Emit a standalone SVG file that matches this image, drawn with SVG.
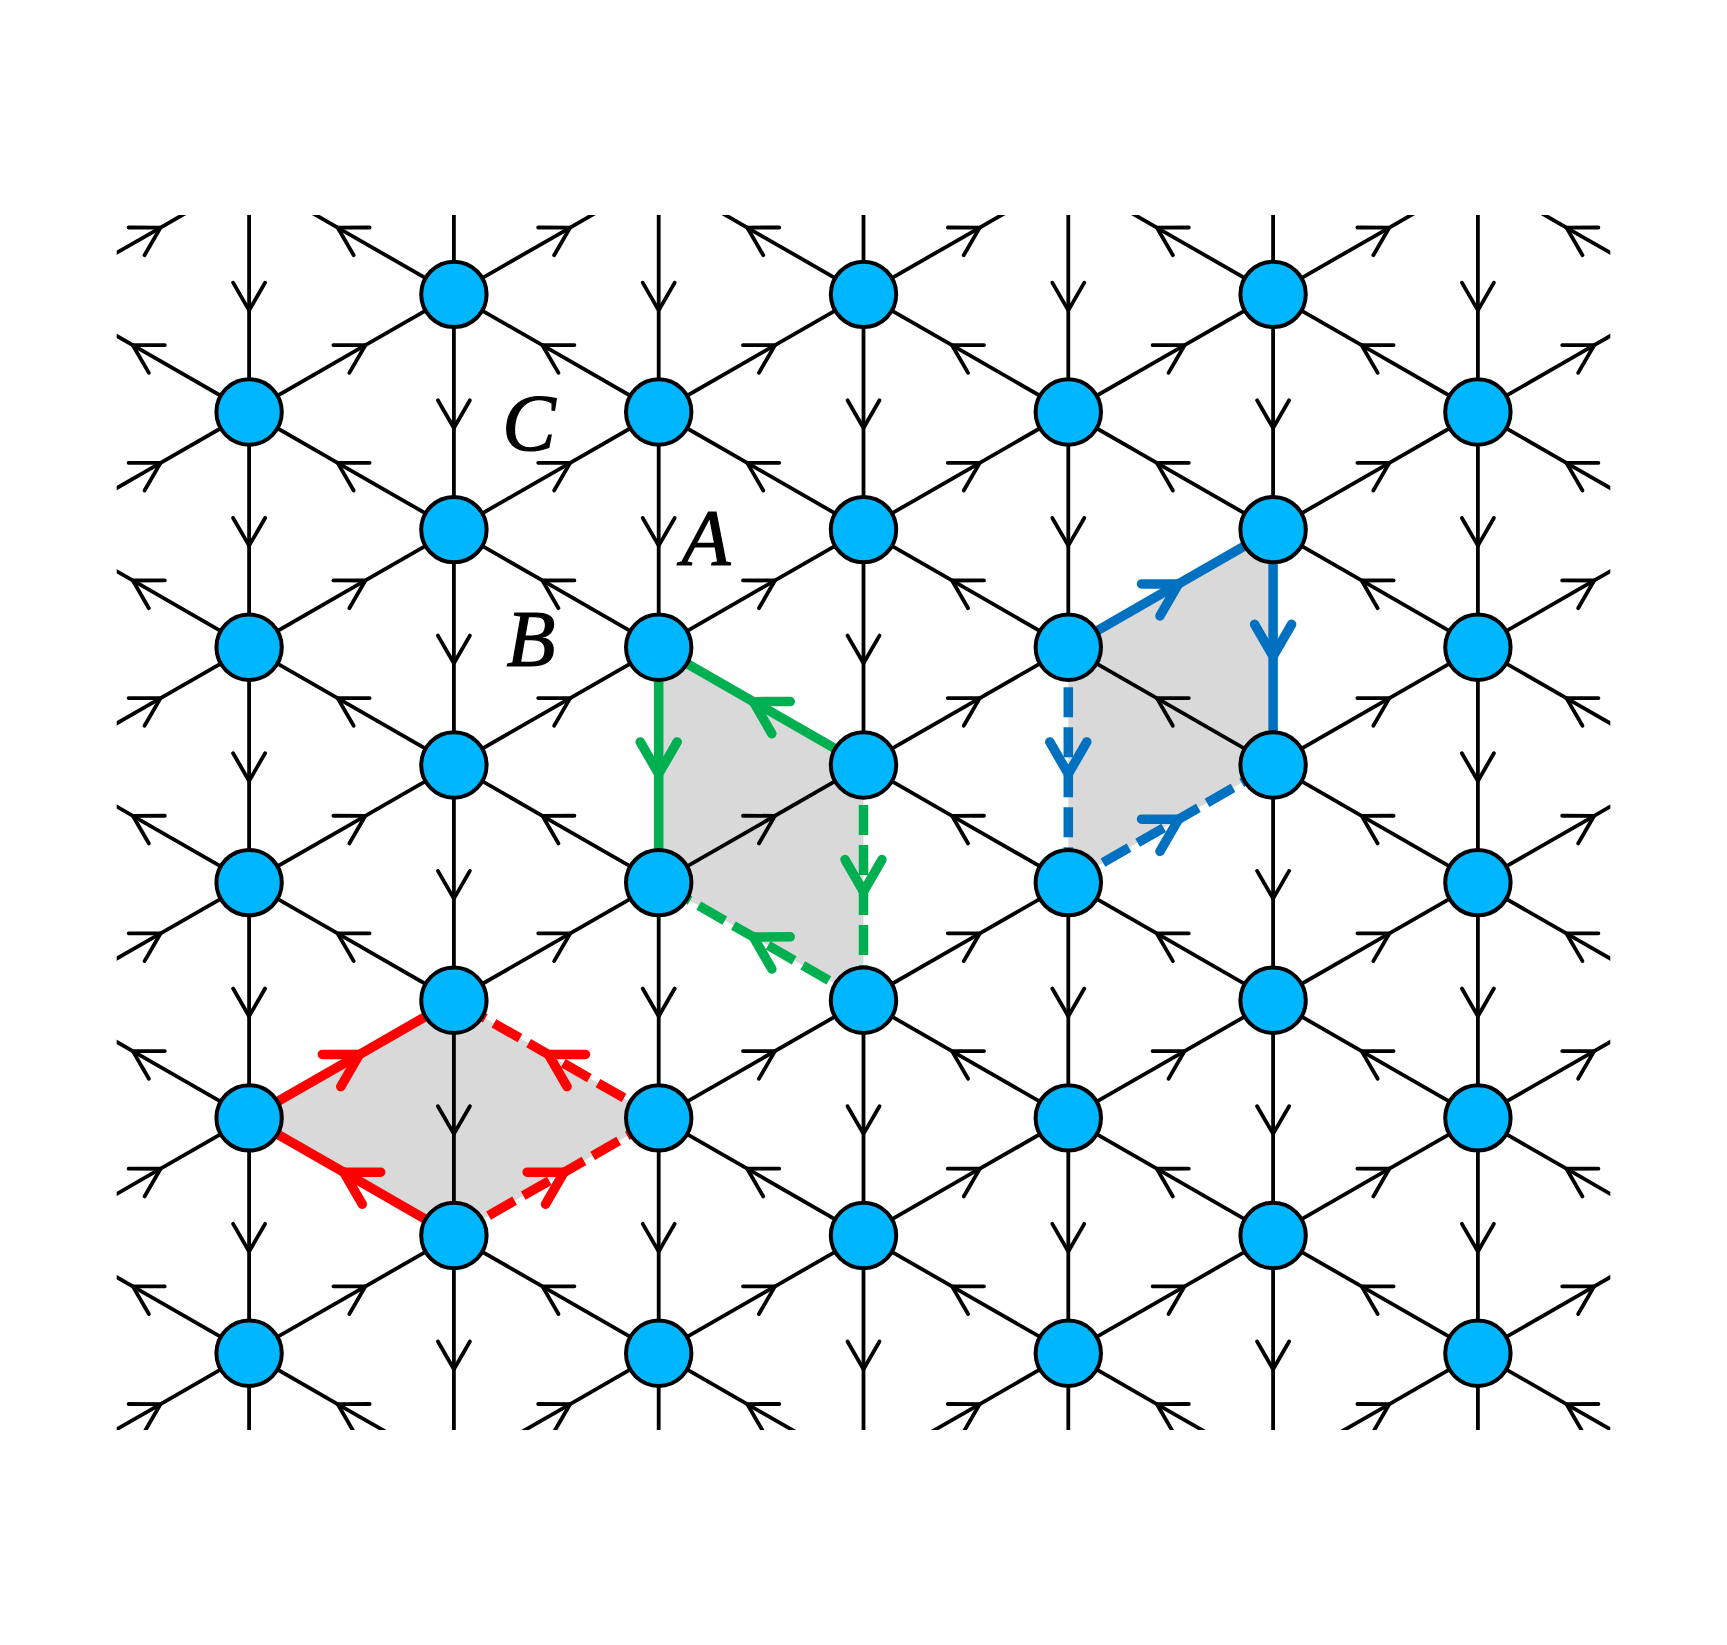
<svg xmlns="http://www.w3.org/2000/svg" width="1727" height="1645" viewBox="0 0 1727 1645">
<style>
.e{fill:none;stroke:#000;stroke-width:3.8;marker-mid:url(#ah)}
.node circle{fill:#00B7FF;stroke:#000;stroke-width:4}
.sh{fill:#D9D9D9;stroke:none}
.g{fill:none;stroke:#00B050;stroke-width:9.5;marker-mid:url(#ag)}
.r{fill:none;stroke:#FF0000;stroke-width:9.5;marker-mid:url(#ar)}
.b{fill:none;stroke:#0070C0;stroke-width:9.5;marker-mid:url(#ab)}
.dash{stroke-dasharray:30 10}
.lbl{font-family:"Liberation Serif","Times New Roman",serif;font-style:italic;font-size:80px;fill:#000;stroke:#000;stroke-width:1.2;text-anchor:middle}
</style>
<defs>
<clipPath id="clip"><rect x="116.7" y="215" width="1493.6" height="1215"/></clipPath>
<marker id="ah" markerUnits="userSpaceOnUse" viewBox="-40 -40 80 80" markerWidth="80" markerHeight="80" refX="-16" refY="0" orient="auto" overflow="visible">
<path d="M-27.7,-16 L0,0 L-27.7,16" fill="none" stroke="#000" stroke-width="3.8" stroke-linecap="round" stroke-linejoin="round"/>
</marker>
<marker id="ag" markerUnits="userSpaceOnUse" viewBox="-50 -50 100 100" markerWidth="100" markerHeight="100" refX="-9" refY="0" orient="auto" overflow="visible">
<path d="M-32,-18.5 L0,0 L-32,18.5" fill="none" stroke="#00B050" stroke-width="9.5" stroke-linecap="round" stroke-linejoin="round"/>
</marker>
<marker id="ar" markerUnits="userSpaceOnUse" viewBox="-50 -50 100 100" markerWidth="100" markerHeight="100" refX="-9" refY="0" orient="auto" overflow="visible">
<path d="M-32,-18.5 L0,0 L-32,18.5" fill="none" stroke="#FF0000" stroke-width="9.5" stroke-linecap="round" stroke-linejoin="round"/>
</marker>
<marker id="ab" markerUnits="userSpaceOnUse" viewBox="-50 -50 100 100" markerWidth="100" markerHeight="100" refX="-9" refY="0" orient="auto" overflow="visible">
<path d="M-32,-18.5 L0,0 L-32,18.5" fill="none" stroke="#0070C0" stroke-width="9.5" stroke-linecap="round" stroke-linejoin="round"/>
</marker>
</defs>
<rect x="0" y="0" width="1727" height="1645" fill="#fff"/>
<g id="shading">
<polygon class="sh" points="658.7,647.3 863.5,764.95 863.5,1000.25 658.7,882.6"/>
<polygon class="sh" points="453.9,1000.25 658.7,1117.9 453.9,1235.55 249.1,1117.9"/>
<polygon class="sh" points="1068.3,647.3 1273.1,529.65 1273.1,764.95 1068.3,882.6"/>
</g>
<g id="connectors">
<g id="lattice" clip-path="url(#clip)">
<path class="e" d="M249.1,176.7 v117.65 v117.65"/>
<path class="e" d="M249.1,412 v117.65 v117.65"/>
<path class="e" d="M249.1,647.3 v117.65 v117.65"/>
<path class="e" d="M249.1,882.6 v117.65 v117.65"/>
<path class="e" d="M249.1,1117.9 v117.65 v117.65"/>
<path class="e" d="M249.1,1353.2 v117.65 v117.65"/>
<path class="e" d="M453.9,59.05 v117.65 v117.65"/>
<path class="e" d="M453.9,294.35 v117.65 v117.65"/>
<path class="e" d="M453.9,529.65 v117.65 v117.65"/>
<path class="e" d="M453.9,764.95 v117.65 v117.65"/>
<path class="e" d="M453.9,1000.25 v117.65 v117.65"/>
<path class="e" d="M453.9,1235.55 v117.65 v117.65"/>
<path class="e" d="M658.7,176.7 v117.65 v117.65"/>
<path class="e" d="M658.7,412 v117.65 v117.65"/>
<path class="e" d="M658.7,882.6 v117.65 v117.65"/>
<path class="e" d="M658.7,1117.9 v117.65 v117.65"/>
<path class="e" d="M658.7,1353.2 v117.65 v117.65"/>
<path class="e" d="M863.5,59.05 v117.65 v117.65"/>
<path class="e" d="M863.5,294.35 v117.65 v117.65"/>
<path class="e" d="M863.5,529.65 v117.65 v117.65"/>
<path class="e" d="M863.5,1000.25 v117.65 v117.65"/>
<path class="e" d="M863.5,1235.55 v117.65 v117.65"/>
<path class="e" d="M1068.3,176.7 v117.65 v117.65"/>
<path class="e" d="M1068.3,412 v117.65 v117.65"/>
<path class="e" d="M1068.3,882.6 v117.65 v117.65"/>
<path class="e" d="M1068.3,1117.9 v117.65 v117.65"/>
<path class="e" d="M1068.3,1353.2 v117.65 v117.65"/>
<path class="e" d="M1273.1,59.05 v117.65 v117.65"/>
<path class="e" d="M1273.1,294.35 v117.65 v117.65"/>
<path class="e" d="M1273.1,764.95 v117.65 v117.65"/>
<path class="e" d="M1273.1,1000.25 v117.65 v117.65"/>
<path class="e" d="M1273.1,1235.55 v117.65 v117.65"/>
<path class="e" d="M1477.9,176.7 v117.65 v117.65"/>
<path class="e" d="M1477.9,412 v117.65 v117.65"/>
<path class="e" d="M1477.9,647.3 v117.65 v117.65"/>
<path class="e" d="M1477.9,882.6 v117.65 v117.65"/>
<path class="e" d="M1477.9,1117.9 v117.65 v117.65"/>
<path class="e" d="M1477.9,1353.2 v117.65 v117.65"/>
<path class="e" d="M44.3,294.35 l102.4,-58.825 l102.4,-58.825"/>
<path class="e" d="M44.3,529.65 l102.4,-58.825 l102.4,-58.825"/>
<path class="e" d="M44.3,764.95 l102.4,-58.825 l102.4,-58.825"/>
<path class="e" d="M44.3,1000.25 l102.4,-58.825 l102.4,-58.825"/>
<path class="e" d="M44.3,1235.55 l102.4,-58.825 l102.4,-58.825"/>
<path class="e" d="M44.3,1470.85 l102.4,-58.825 l102.4,-58.825"/>
<path class="e" d="M249.1,412 l102.4,-58.825 l102.4,-58.825"/>
<path class="e" d="M249.1,647.3 l102.4,-58.825 l102.4,-58.825"/>
<path class="e" d="M249.1,882.6 l102.4,-58.825 l102.4,-58.825"/>
<path class="e" d="M249.1,1353.2 l102.4,-58.825 l102.4,-58.825"/>
<path class="e" d="M453.9,294.35 l102.4,-58.825 l102.4,-58.825"/>
<path class="e" d="M453.9,529.65 l102.4,-58.825 l102.4,-58.825"/>
<path class="e" d="M453.9,764.95 l102.4,-58.825 l102.4,-58.825"/>
<path class="e" d="M453.9,1000.25 l102.4,-58.825 l102.4,-58.825"/>
<path class="e" d="M453.9,1470.85 l102.4,-58.825 l102.4,-58.825"/>
<path class="e" d="M658.7,412 l102.4,-58.825 l102.4,-58.825"/>
<path class="e" d="M658.7,647.3 l102.4,-58.825 l102.4,-58.825"/>
<path class="e" d="M658.7,882.6 l102.4,-58.825 l102.4,-58.825"/>
<path class="e" d="M658.7,1117.9 l102.4,-58.825 l102.4,-58.825"/>
<path class="e" d="M658.7,1353.2 l102.4,-58.825 l102.4,-58.825"/>
<path class="e" d="M863.5,294.35 l102.4,-58.825 l102.4,-58.825"/>
<path class="e" d="M863.5,529.65 l102.4,-58.825 l102.4,-58.825"/>
<path class="e" d="M863.5,764.95 l102.4,-58.825 l102.4,-58.825"/>
<path class="e" d="M863.5,1000.25 l102.4,-58.825 l102.4,-58.825"/>
<path class="e" d="M863.5,1235.55 l102.4,-58.825 l102.4,-58.825"/>
<path class="e" d="M863.5,1470.85 l102.4,-58.825 l102.4,-58.825"/>
<path class="e" d="M1068.3,412 l102.4,-58.825 l102.4,-58.825"/>
<path class="e" d="M1068.3,1117.9 l102.4,-58.825 l102.4,-58.825"/>
<path class="e" d="M1068.3,1353.2 l102.4,-58.825 l102.4,-58.825"/>
<path class="e" d="M1273.1,294.35 l102.4,-58.825 l102.4,-58.825"/>
<path class="e" d="M1273.1,529.65 l102.4,-58.825 l102.4,-58.825"/>
<path class="e" d="M1273.1,764.95 l102.4,-58.825 l102.4,-58.825"/>
<path class="e" d="M1273.1,1000.25 l102.4,-58.825 l102.4,-58.825"/>
<path class="e" d="M1273.1,1235.55 l102.4,-58.825 l102.4,-58.825"/>
<path class="e" d="M1273.1,1470.85 l102.4,-58.825 l102.4,-58.825"/>
<path class="e" d="M1477.9,412 l102.4,-58.825 l102.4,-58.825"/>
<path class="e" d="M1477.9,647.3 l102.4,-58.825 l102.4,-58.825"/>
<path class="e" d="M1477.9,882.6 l102.4,-58.825 l102.4,-58.825"/>
<path class="e" d="M1477.9,1117.9 l102.4,-58.825 l102.4,-58.825"/>
<path class="e" d="M1477.9,1353.2 l102.4,-58.825 l102.4,-58.825"/>
<path class="e" d="M249.1,412 l-102.4,-58.825 l-102.4,-58.825"/>
<path class="e" d="M249.1,647.3 l-102.4,-58.825 l-102.4,-58.825"/>
<path class="e" d="M249.1,882.6 l-102.4,-58.825 l-102.4,-58.825"/>
<path class="e" d="M249.1,1117.9 l-102.4,-58.825 l-102.4,-58.825"/>
<path class="e" d="M249.1,1353.2 l-102.4,-58.825 l-102.4,-58.825"/>
<path class="e" d="M453.9,294.35 l-102.4,-58.825 l-102.4,-58.825"/>
<path class="e" d="M453.9,529.65 l-102.4,-58.825 l-102.4,-58.825"/>
<path class="e" d="M453.9,764.95 l-102.4,-58.825 l-102.4,-58.825"/>
<path class="e" d="M453.9,1000.25 l-102.4,-58.825 l-102.4,-58.825"/>
<path class="e" d="M453.9,1470.85 l-102.4,-58.825 l-102.4,-58.825"/>
<path class="e" d="M658.7,412 l-102.4,-58.825 l-102.4,-58.825"/>
<path class="e" d="M658.7,647.3 l-102.4,-58.825 l-102.4,-58.825"/>
<path class="e" d="M658.7,882.6 l-102.4,-58.825 l-102.4,-58.825"/>
<path class="e" d="M658.7,1353.2 l-102.4,-58.825 l-102.4,-58.825"/>
<path class="e" d="M863.5,294.35 l-102.4,-58.825 l-102.4,-58.825"/>
<path class="e" d="M863.5,529.65 l-102.4,-58.825 l-102.4,-58.825"/>
<path class="e" d="M863.5,1235.55 l-102.4,-58.825 l-102.4,-58.825"/>
<path class="e" d="M863.5,1470.85 l-102.4,-58.825 l-102.4,-58.825"/>
<path class="e" d="M1068.3,412 l-102.4,-58.825 l-102.4,-58.825"/>
<path class="e" d="M1068.3,647.3 l-102.4,-58.825 l-102.4,-58.825"/>
<path class="e" d="M1068.3,882.6 l-102.4,-58.825 l-102.4,-58.825"/>
<path class="e" d="M1068.3,1117.9 l-102.4,-58.825 l-102.4,-58.825"/>
<path class="e" d="M1068.3,1353.2 l-102.4,-58.825 l-102.4,-58.825"/>
<path class="e" d="M1273.1,294.35 l-102.4,-58.825 l-102.4,-58.825"/>
<path class="e" d="M1273.1,529.65 l-102.4,-58.825 l-102.4,-58.825"/>
<path class="e" d="M1273.1,764.95 l-102.4,-58.825 l-102.4,-58.825"/>
<path class="e" d="M1273.1,1000.25 l-102.4,-58.825 l-102.4,-58.825"/>
<path class="e" d="M1273.1,1235.55 l-102.4,-58.825 l-102.4,-58.825"/>
<path class="e" d="M1273.1,1470.85 l-102.4,-58.825 l-102.4,-58.825"/>
<path class="e" d="M1477.9,412 l-102.4,-58.825 l-102.4,-58.825"/>
<path class="e" d="M1477.9,647.3 l-102.4,-58.825 l-102.4,-58.825"/>
<path class="e" d="M1477.9,882.6 l-102.4,-58.825 l-102.4,-58.825"/>
<path class="e" d="M1477.9,1117.9 l-102.4,-58.825 l-102.4,-58.825"/>
<path class="e" d="M1477.9,1353.2 l-102.4,-58.825 l-102.4,-58.825"/>
<path class="e" d="M1682.7,294.35 l-102.4,-58.825 l-102.4,-58.825"/>
<path class="e" d="M1682.7,529.65 l-102.4,-58.825 l-102.4,-58.825"/>
<path class="e" d="M1682.7,764.95 l-102.4,-58.825 l-102.4,-58.825"/>
<path class="e" d="M1682.7,1000.25 l-102.4,-58.825 l-102.4,-58.825"/>
<path class="e" d="M1682.7,1235.55 l-102.4,-58.825 l-102.4,-58.825"/>
<path class="e" d="M1682.7,1470.85 l-102.4,-58.825 l-102.4,-58.825"/>
</g>
<g id="green-loop">
<path class="g" d="M863.5,764.95 L761.1,706.125 L658.7,647.3"/>
<path class="g" d="M658.7,647.3 L658.7,764.95 L658.7,882.6"/>
<path class="g dash" d="M863.5,764.95 L863.5,882.6 L863.5,1000.25"/>
<path class="g dash" d="M863.5,1000.25 L761.1,941.425 L658.7,882.6"/>
</g>
<g id="red-loop">
<path class="r" d="M249.1,1117.9 L351.5,1059.075 L453.9,1000.25"/>
<path class="r" d="M453.9,1235.55 L351.5,1176.725 L249.1,1117.9"/>
<path class="r dash" d="M453.9,1235.55 L556.3,1176.725 L658.7,1117.9"/>
<path class="r dash" d="M658.7,1117.9 L556.3,1059.075 L453.9,1000.25"/>
</g>
<g id="blue-loop">
<path class="b" d="M1068.3,647.3 L1170.7,588.475 L1273.1,529.65"/>
<path class="b" d="M1273.1,529.65 L1273.1,647.3 L1273.1,764.95"/>
<path class="b dash" d="M1068.3,647.3 L1068.3,764.95 L1068.3,882.6"/>
<path class="b dash" d="M1068.3,882.6 L1170.7,823.775 L1273.1,764.95"/>
</g>
</g>
<g id="nodes">
<g id="n-0-1" class="node"><circle cx="249.1" cy="412" r="32.7"/></g>
<g id="n-0-3" class="node"><circle cx="249.1" cy="647.3" r="32.7"/></g>
<g id="n-0-5" class="node"><circle cx="249.1" cy="882.6" r="32.7"/></g>
<g id="n-0-7" class="node"><circle cx="249.1" cy="1117.9" r="32.7"/></g>
<g id="n-0-9" class="node"><circle cx="249.1" cy="1353.2" r="32.7"/></g>
<g id="n-1-0" class="node"><circle cx="453.9" cy="294.35" r="32.7"/></g>
<g id="n-1-2" class="node"><circle cx="453.9" cy="529.65" r="32.7"/></g>
<g id="n-1-4" class="node"><circle cx="453.9" cy="764.95" r="32.7"/></g>
<g id="n-1-6" class="node"><circle cx="453.9" cy="1000.25" r="32.7"/></g>
<g id="n-1-8" class="node"><circle cx="453.9" cy="1235.55" r="32.7"/></g>
<g id="n-2-1" class="node"><circle cx="658.7" cy="412" r="32.7"/></g>
<g id="n-2-3" class="node"><circle cx="658.7" cy="647.3" r="32.7"/></g>
<g id="n-2-5" class="node"><circle cx="658.7" cy="882.6" r="32.7"/></g>
<g id="n-2-7" class="node"><circle cx="658.7" cy="1117.9" r="32.7"/></g>
<g id="n-2-9" class="node"><circle cx="658.7" cy="1353.2" r="32.7"/></g>
<g id="n-3-0" class="node"><circle cx="863.5" cy="294.35" r="32.7"/></g>
<g id="n-3-2" class="node"><circle cx="863.5" cy="529.65" r="32.7"/></g>
<g id="n-3-4" class="node"><circle cx="863.5" cy="764.95" r="32.7"/></g>
<g id="n-3-6" class="node"><circle cx="863.5" cy="1000.25" r="32.7"/></g>
<g id="n-3-8" class="node"><circle cx="863.5" cy="1235.55" r="32.7"/></g>
<g id="n-4-1" class="node"><circle cx="1068.3" cy="412" r="32.7"/></g>
<g id="n-4-3" class="node"><circle cx="1068.3" cy="647.3" r="32.7"/></g>
<g id="n-4-5" class="node"><circle cx="1068.3" cy="882.6" r="32.7"/></g>
<g id="n-4-7" class="node"><circle cx="1068.3" cy="1117.9" r="32.7"/></g>
<g id="n-4-9" class="node"><circle cx="1068.3" cy="1353.2" r="32.7"/></g>
<g id="n-5-0" class="node"><circle cx="1273.1" cy="294.35" r="32.7"/></g>
<g id="n-5-2" class="node"><circle cx="1273.1" cy="529.65" r="32.7"/></g>
<g id="n-5-4" class="node"><circle cx="1273.1" cy="764.95" r="32.7"/></g>
<g id="n-5-6" class="node"><circle cx="1273.1" cy="1000.25" r="32.7"/></g>
<g id="n-5-8" class="node"><circle cx="1273.1" cy="1235.55" r="32.7"/></g>
<g id="n-6-1" class="node"><circle cx="1477.9" cy="412" r="32.7"/></g>
<g id="n-6-3" class="node"><circle cx="1477.9" cy="647.3" r="32.7"/></g>
<g id="n-6-5" class="node"><circle cx="1477.9" cy="882.6" r="32.7"/></g>
<g id="n-6-7" class="node"><circle cx="1477.9" cy="1117.9" r="32.7"/></g>
<g id="n-6-9" class="node"><circle cx="1477.9" cy="1353.2" r="32.7"/></g>
</g>
<g id="labels">
<text class="lbl" x="529" y="450">C</text>
<text class="lbl" x="706" y="565">A</text>
<text class="lbl" x="531" y="666">B</text>
</g>
</svg>
